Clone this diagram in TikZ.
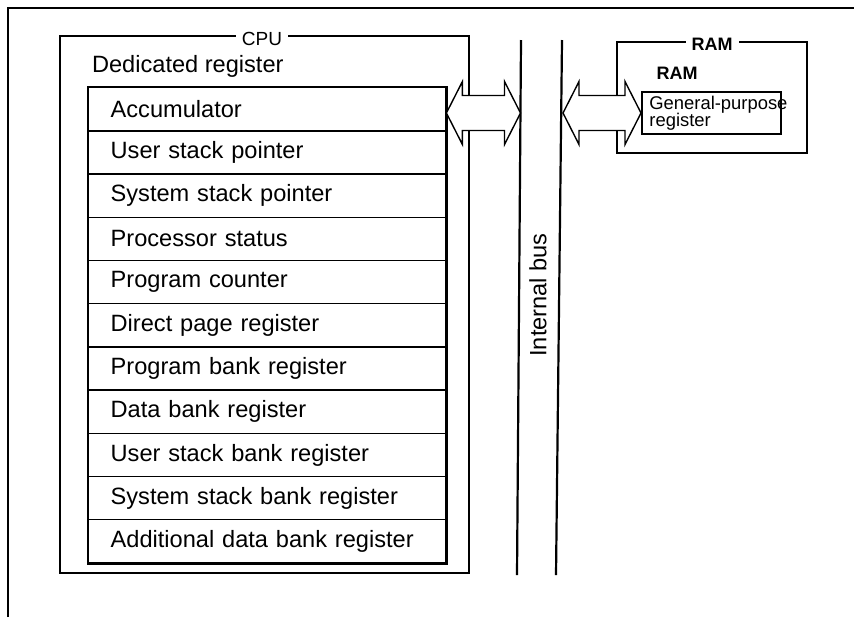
\documentclass[tikz,border=0pt]{standalone}
\usepackage{fontspec}
\setmainfont{Liberation Sans}
\usetikzlibrary{calc}

\tikzset{
	regrow/.style={draw, line width=0.7pt, anchor=north west, minimum height=21.6pt,
		inner xsep=11pt, inner ysep=0pt, text width=156.5pt, align=left,
		font=\fontsize{11.8}{14}\selectfont},
	box/.style={draw, line width=0.7pt},
	boxlabel/.style={fill=white, inner xsep=3pt, inner ysep=1pt},
	busline/.style={line width=1.1pt},
	busarrow/.style={draw, fill=white, line width=0.7pt, line join=miter}
}

\newcommand{\dblarrow}[2]{%
	\draw[busarrow] (#1) -- ($(#1)+(16,-31.5)$) -- ($(#1)+(16,-17.5)$)
		-- ($(#2)+(-16,-17.5)$) -- ($(#2)+(-16,-31.5)$) -- (#2)
		-- ($(#2)+(-16,31.5)$) -- ($(#2)+(-16,17.5)$)
		-- ($(#1)+(16,17.5)$) -- ($(#1)+(16,31.5)$) -- cycle;}

\begin{document}
\begin{tikzpicture}[x=0.5pt, y=-0.5pt]
		\useasboundingbox (0,0) rectangle (854,617);
		\draw[line width=1.4pt] (8,617) -- (8,8) -- (854,8);

		% CPU side
		\draw[box] (60,36) rectangle (469,573);
		\node[boxlabel, font=\fontsize{9.5}{11}\selectfont] (cpu) at (262,39) {CPU};
		\node[anchor=west, font=\fontsize{11.8}{14}\selectfont] (ded) at (85,66) {Dedicated register};

		\foreach \name [count=\i] in {Accumulator, User stack pointer, System stack pointer,
			Processor status, Program counter, Direct page register, Program bank register,
			Data bank register, User stack bank register, System stack bank register,
			Additional data bank register}
			\node[regrow] (r\i) at (88, {87+43.2*(\i-1)}) {\name};
		\draw[line width=1.1pt] (r1.north west) rectangle (r11.south east);

		% internal bus
		\coordinate (busLt) at (521,40);
		\coordinate (busLb) at (517,575);
		\coordinate (busRt) at (562,40);
		\coordinate (busRb) at (556,575);
		\draw[busline] (busLt) -- (busLb);
		\draw[busline] (busRt) -- (busRb);
		\node[rotate=90, font=\fontsize{11.8}{14}\selectfont] (bus) at (538,295) {Internal bus};

		% RAM side
		\draw[box] (617,42) rectangle (807,153);
		\node[boxlabel, font=\fontsize{9}{11}\bfseries] (ram) at (712,44) {RAM};
		\node[font=\fontsize{9}{11}\bfseries] (raminner) at (677,73) {RAM};
		\node[draw, line width=1pt, minimum width=69.5pt, minimum height=21pt, inner sep=0pt] (gp) at (711.5,113) {};
		\node[anchor=north west, inner sep=0pt, align=left, font=\fontsize{9.2}{8.6}\selectfont] (gptext) at (649,96) {General-purpose\\register};

		% connections to the bus
		\coordinate (accR) at (r1.east |- 0,113);
		\coordinate (busL) at (520.5,113);
		\coordinate (busR) at (563,113);
		\coordinate (gpL) at (gp.west);
		\dblarrow{accR}{busL}
		\dblarrow{busR}{gpL}
		\end{tikzpicture}
\end{document}
